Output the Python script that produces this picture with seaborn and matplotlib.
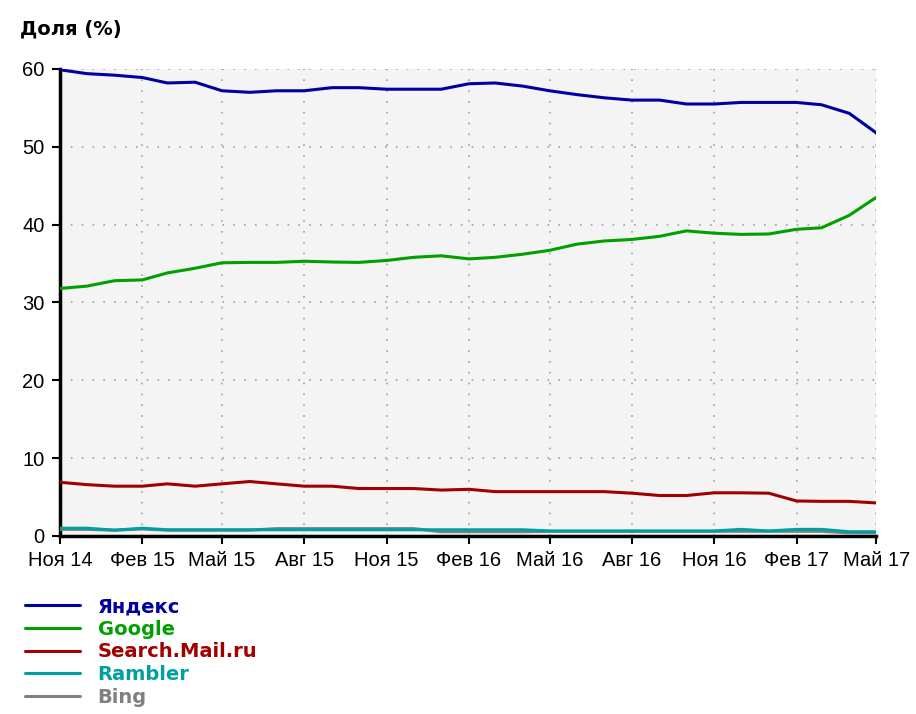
import pandas as pd
import numpy as np
import matplotlib
matplotlib.use("Agg")
import matplotlib.pyplot as plt
import matplotlib.dates as mdates
import seaborn as sns

# monthly readings, Nov 2014 .. May 2017
months = pd.date_range("2014-11-01", "2017-05-01", freq="MS")

yandex = [59.9, 59.4, 59.2, 58.9, 58.2, 58.3, 57.2, 57.0, 57.2, 57.2, 57.6,
          57.6, 57.4, 57.4, 57.4, 58.1, 58.2, 57.8, 57.2, 56.7, 56.3, 56.0,
          56.0, 55.5, 55.5, 55.7, 55.7, 55.7, 55.4, 54.3, 51.8]
google = [31.8, 32.1, 32.8, 32.9, 33.8, 34.4, 35.1, 35.15, 35.15, 35.3, 35.2,
          35.15, 35.4, 35.8, 36.0, 35.6, 35.8, 36.2, 36.7, 37.5, 37.9, 38.1,
          38.5, 39.2, 38.9, 38.75, 38.8, 39.4, 39.6, 41.2, 43.5]
mail = [6.9, 6.6, 6.4, 6.4, 6.7, 6.4, 6.7, 7.0, 6.7, 6.4, 6.4,
        6.1, 6.1, 6.1, 5.9, 6.0, 5.7, 5.7, 5.7, 5.7, 5.7, 5.5,
        5.2, 5.2, 5.55, 5.55, 5.5, 4.5, 4.45, 4.45, 4.25]
rambler = [1.0, 1.0, 0.75, 1.0, 0.8, 0.8, 0.8, 0.8, 0.8, 0.8, 0.8,
           0.8, 0.8, 0.8, 0.8, 0.8, 0.8, 0.8, 0.65, 0.65, 0.65, 0.65,
           0.65, 0.65, 0.65, 0.85, 0.65, 0.85, 0.85, 0.55, 0.55]
bing = [0.85, 0.85, 0.75, 0.9, 0.75, 0.75, 0.75, 0.75, 0.95, 0.95, 0.95,
        0.95, 0.95, 0.95, 0.55, 0.55, 0.55, 0.55, 0.6, 0.6, 0.6, 0.6,
        0.6, 0.6, 0.6, 0.6, 0.6, 0.6, 0.6, 0.4, 0.4]

engines = ["Яндекс", "Google", "Search.Mail.ru", "Rambler", "Bing"]
series = [yandex, google, mail, rambler, bing]

COLORS = {
    "Яндекс"        : "#0000a0",
    "Google"        : "#00a000",
    "Search.Mail.ru": "#a00000",
    "Rambler"       : "#00a0a0",
    "Bing"          : "#808080",
}

RU_MONTHS = {1: "Янв", 2: "Фев", 3: "Мар", 4: "Апр", 5: "Май", 6: "Июн",
             7: "Июл", 8: "Авг", 9: "Сен", 10: "Окт", 11: "Ноя", 12: "Дек"}

df = pd.DataFrame({"date": np.tile(months, len(engines)),
                   "engine": np.repeat(engines, len(months)),
                   "share": np.concatenate(series)})

sns.set_style("ticks")
plt.rcParams["font.family"] = ["Liberation Sans", "DejaVu Sans"]

fig = plt.figure(figsize=(9.16, 7.14), dpi=100)
ax = fig.add_axes([0.0655, 0.2493, 0.891, 0.6541])
ax.set_facecolor("#f4f4f4")

# draw Bing first so Rambler sits on top of it
for i, name in enumerate(reversed(engines)):
    sub = df[df["engine"] == name]
    sns.lineplot(data=sub, x="date", y="share", color=COLORS[name],
                 linewidth=2.2, ax=ax, label=name, zorder=3 + i)

ax.set_xlim(months[0], months[-1])
ax.set_ylim(0, 60)
ax.set_yticks([0, 10, 20, 30, 40, 50, 60])
ax.xaxis.set_major_locator(mdates.MonthLocator(bymonth=[2, 5, 8, 11]))
ax.xaxis.set_major_formatter(plt.FuncFormatter(
    lambda v, _: f"{RU_MONTHS[mdates.num2date(v).month]} {mdates.num2date(v).year % 100}"))

ax.grid(True, color="#a0a0a0", linestyle=(0, (1, 5.5)), linewidth=1.2)
ax.set_xlabel("")
ax.set_ylabel("")
for s in ["top", "right"]:
    ax.spines[s].set_visible(False)
for s in ["left", "bottom"]:
    ax.spines[s].set_linewidth(2.5)
    ax.spines[s].set_color("black")
ax.tick_params(axis="both", direction="out", length=6, width=1.5,
               labelsize=14.5, colors="black", pad=5)

fig.text(0.022, 0.96, "Доля (%)", fontsize=14, fontweight="bold",
         family="DejaVu Sans", color="black", ha="left", va="center")

handles, labels = ax.get_legend_handles_labels()
order = [labels.index(n) for n in engines]
leg = ax.legend([handles[i] for i in order], engines,
                loc="upper left", bbox_to_anchor=(-0.0527, -0.114),
                frameon=False, handlelength=2.85, handletextpad=0.9,
                labelspacing=0.19, borderaxespad=0,
                prop={"family": "DejaVu Sans", "weight": "bold", "size": 14})
for txt, name in zip(leg.get_texts(), engines):
    txt.set_color(COLORS[name])

fig.savefig("out.png", dpi=100, facecolor="white")
plt.close(fig)
